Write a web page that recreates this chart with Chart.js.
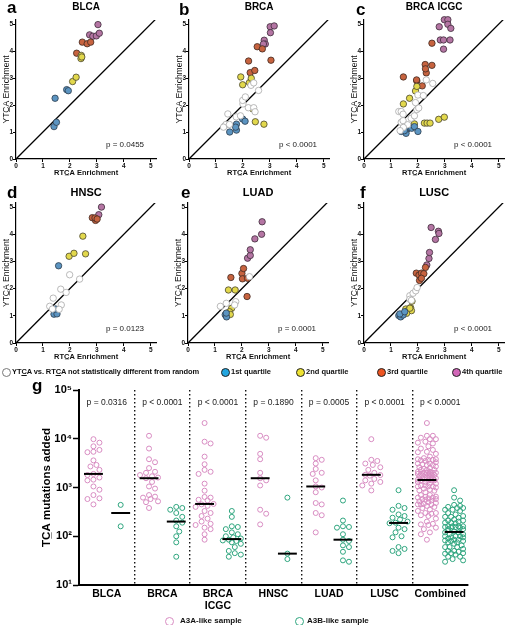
<!DOCTYPE html>
<html><head><meta charset="utf-8">
<script src="https://cdn.jsdelivr.net/npm/chart.js@4"></script>
<style>
html,body{margin:0;padding:0;background:#fff;}
body{width:506px;height:625px;position:relative;overflow:hidden;font-family:"Liberation Sans",Arial,Helvetica,sans-serif;}
.letter{position:absolute;font-weight:bold;font-size:17px;line-height:17px;color:#000;z-index:5;}
.leg{position:absolute;font-weight:bold;font-size:7.5px;line-height:10px;height:10px;color:#111;white-space:nowrap;z-index:5;}
.dot{position:absolute;width:7px;height:7px;border-radius:50%;border:1px solid #222;z-index:5;}
</style></head><body>
<script>
// ---------------- DATA: panels a-f (RTCA enrichment, YTCA enrichment) ----------------
const scatterTitles = ['BLCA', 'BRCA', 'BRCA ICGC', 'HNSC', 'LUAD', 'LUSC'];
const scatterPValues = ['p = 0.0455', 'p < 0.0001', 'p < 0.0001', 'p = 0.0123', 'p = 0.0001', 'p < 0.0001'];
const enrichTicks = [0, 1, 2, 3, 4, 5];

const blcaOpen = [];
const blcaQ1 = [[1.41,1.20],[1.50,1.36],[1.45,2.25],[1.88,2.57],[1.94,2.53]];
const blcaQ2 = [[2.10,2.87],[2.23,3.03],[2.42,3.84],[2.41,3.72],[2.44,3.78]];
const blcaQ3 = [[2.25,3.92],[2.46,4.33],[2.64,4.27],[2.77,4.33]];
const blcaQ4 = [[2.73,4.60],[2.85,4.55],[2.98,4.56],[3.04,4.98],[3.09,4.66]];

const brcaOpen = [[1.32,1.22],[1.37,1.28],[1.44,1.67],[1.50,1.28],[1.28,1.18],[1.75,1.56],[1.91,1.60],[2.00,2.04],[1.99,2.17],[2.09,2.30],[2.20,1.90],[2.40,1.90],[2.45,1.75],[2.30,2.73],[2.40,2.82],[2.58,2.54]];
const brcaQ1 = [[1.51,1.00],[1.76,1.07],[1.76,1.29],[1.73,1.18],[1.99,1.48],[2.08,1.40]];
const brcaQ2 = [[1.92,3.04],[1.99,2.75],[2.24,2.83],[2.31,2.99],[2.36,1.86],[2.46,1.38],[2.78,1.29]];
const brcaQ3 = [[2.21,3.63],[2.27,3.20],[2.44,3.28],[2.53,4.16],[2.72,4.08],[3.04,3.66]];
const brcaQ4 = [[2.79,4.40],[2.83,4.26],[2.76,4.26],[3.01,4.90],[3.16,4.93],[3.02,4.68]];

const icgcOpen = [[1.29,1.76],[1.38,1.76],[1.45,1.66],[1.38,1.36],[1.45,1.42],[1.62,1.27],[1.75,1.51],[1.87,1.60],[1.96,1.83],[2.03,1.89],[1.91,2.09],[2.00,2.37],[2.20,2.35],[2.31,2.93],[2.55,2.80],[1.46,1.17],[1.34,1.05]];
const icgcQ1 = [[1.38,1.02],[1.47,1.12],[1.54,1.03],[1.60,1.10],[1.69,1.17],[1.77,1.14],[1.87,1.20],[2.00,1.02],[1.56,0.95],[1.50,1.05]];
const icgcQ2 = [[1.46,2.04],[1.69,2.25],[1.91,2.52],[1.96,2.69],[1.87,1.30],[2.24,1.33],[2.34,1.33],[2.45,1.33],[2.77,1.47],[2.98,1.55]];
const icgcQ3 = [[1.46,3.04],[1.96,2.89],[1.95,2.93],[2.16,2.71],[2.27,3.50],[2.31,3.19],[2.28,3.34],[2.52,3.47],[2.52,4.29]];
const icgcQ4 = [[2.79,4.90],[2.98,5.16],[3.11,5.16],[3.11,4.99],[3.22,4.84],[2.83,4.41],[2.95,4.41],[3.19,4.41],[2.95,4.07]];

const hnscOpen = [[1.25,1.35],[1.38,1.65],[1.66,1.98],[1.86,1.86],[1.99,2.51],[2.36,2.35],[1.68,1.40],[1.60,1.24],[1.35,1.25]];
const hnscQ1 = [[1.41,1.06],[1.52,1.07],[1.47,1.25],[1.58,2.84]];
const hnscQ2 = [[1.97,3.19],[2.15,3.30],[2.58,3.28],[2.48,3.93]];
const hnscQ3 = [[2.83,4.61],[2.95,4.51],[2.93,4.60],[3.01,4.56]];
const hnscQ4 = [[3.07,4.72],[3.17,5.00]];

const luadOpen = [[1.20,1.35],[1.42,1.46],[1.77,1.52],[1.73,1.40],[2.28,2.44]];
const luadQ1 = [[1.38,1.04],[1.43,0.96],[1.42,1.10]];
const luadQ2 = [[1.50,1.95],[1.75,1.95],[1.62,1.28],[1.54,1.15],[1.57,1.05]];
const luadQ3 = [[1.59,2.41],[2.00,2.56],[2.06,2.74],[2.02,2.36],[2.21,2.38],[2.19,1.71]];
const luadQ4 = [[2.21,3.12],[2.31,3.22],[2.31,3.43],[2.48,3.83],[2.73,4.00],[2.75,4.46]];

const luscOpen = [[1.70,1.74],[1.82,1.83],[1.92,1.92],[1.97,2.04],[1.70,1.61],[1.76,1.57]];
const luscQ1 = [[1.29,1.01],[1.36,0.96],[1.45,1.03],[1.33,1.07],[1.51,1.15]];
const luscQ2 = [[1.55,1.25],[1.63,1.19],[1.73,1.30],[1.76,1.19],[1.58,1.09],[1.70,1.28],[1.78,1.54]];
const luscQ3 = [[1.94,2.57],[2.04,2.50],[2.13,2.57],[2.22,2.55],[2.06,2.30],[2.13,2.38],[2.28,2.78]];
const luscQ4 = [[2.33,2.87],[2.41,3.11],[2.43,3.33],[2.49,4.25],[2.76,4.11],[2.78,4.03],[2.65,3.81]];

// ---------------- DATA: panel g (TCA mutations added) ----------------
const gCategories = ['BLCA', 'BRCA', ['BRCA', 'ICGC'], 'HNSC', 'LUAD', 'LUSC', 'Combined'];
const gPValues = ['p = 0.0316', 'p < 0.0001', 'p < 0.0001', 'p = 0.1890', 'p = 0.0005', 'p < 0.0001', 'p < 0.0001'];
const gYTicks = [10, 100, 1000, 10000, 100000];
const gYTickLabels = ['10\u00B9', '10\u00B2', '10\u00B3', '10\u2074', '10\u2075'];

const blcaA3A = [9800, 8300, 7000, 5900, 5400, 5300, 3600, 2900, 2700, 2300, 1900, 1800, 1600, 1450, 1400, 1050, 900, 700, 600, 580, 450];
const blcaA3B = [440, 160];
const brcaA3A = [11500, 6300, 3800, 3300, 2500, 2100, 2000, 1800, 1700, 1600, 1550, 1300, 1050, 950, 700, 650, 620, 580, 520, 500, 380];
const brcaA3B = [400, 380, 350, 300, 250, 210, 190, 160, 125, 100, 75, 38];
const icgcA3A = [21000, 8700, 8000, 4300, 3000, 2300, 2100, 1900, 1200, 860, 640, 620, 560, 540, 460, 450, 420, 400, 330, 300, 260, 230, 200, 180, 170, 150, 140, 110, 85];
const icgcA3B = [330, 250, 160, 155, 140, 120, 110, 100, 95, 90, 85, 82, 80, 75, 70, 60, 50, 45, 42, 38];
const hnscA3A = [11500, 10500, 4900, 3800, 2000, 1550, 1400, 1100, 350, 290, 175];
const hnscA3B = [620, 44, 34];
const luadA3A = [4000, 3700, 3100, 2400, 2000, 1900, 1400, 1050, 1000, 800, 480, 450, 300, 270, 120];
const luadA3B = [540, 210, 160, 155, 150, 110, 85, 80, 65, 60, 48, 32, 30];
const luscA3A = [9800, 3700, 3500, 3100, 2900, 2600, 2300, 2000, 1820, 1800, 1750, 1500, 1400, 1300, 1200, 1100, 870];
const luscA3B = [880, 420, 380, 350, 280, 260, 240, 220, 200, 190, 185, 150, 140, 120, 100, 95, 60, 55, 50, 45];
const combinedA3A = [].concat(blcaA3A, brcaA3A, icgcA3A, hnscA3A, luadA3A, luscA3A);
const combinedA3B = [].concat(blcaA3B, brcaA3B, icgcA3B, hnscA3B, luadA3B, luscA3B);

// ---------------- rendering ----------------
const FF = '"Liberation Sans", Arial, Helvetica, sans-serif';
Chart.defaults.font.family = FF;
Chart.defaults.color = '#111';

function makeCanvas(left, top, w, h) {
  const c = document.createElement('canvas');
  c.width = w; c.height = h;
  c.style.cssText = 'position:absolute;left:' + left + 'px;top:' + top + 'px;width:' + w + 'px;height:' + h + 'px;';
  document.body.appendChild(c);
  return c;
}
function addDiv(cls, left, top, html, extra) {
  const d = document.createElement('div');
  d.className = cls;
  d.style.left = left + 'px'; d.style.top = top + 'px';
  if (extra) d.style.cssText += extra;
  d.innerHTML = html;
  document.body.appendChild(d);
  return d;
}
function textPlugin(items, font, align) {
  return {
    id: 'txt',
    afterDatasetsDraw(chart) {
      const {ctx, scales} = chart;
      ctx.save();
      ctx.font = font;
      ctx.fillStyle = '#1a1a1a';
      ctx.textAlign = align;
      ctx.textBaseline = 'middle';
      items.forEach(it => ctx.fillText(it.text, scales.x.getPixelForValue(it.x), scales.y.getPixelForValue(it.y)));
      ctx.restore();
    }
  };
}

const GROUP_STYLES = {
  open: {bg: '#ffffff', border: '#a8a8a8'},
  q1: {bg: '#5b94c1', border: '#2e3d4c'},
  q2: {bg: '#e2d84c', border: '#4a4630'},
  q3: {bg: '#c7633f', border: '#3f2a22'},
  q4: {bg: '#b475a3', border: '#3e2c3a'}
};

function scatterPanel(idx, originX, row, groups) {
  const top = row === 0 ? 0 : 180;
  const h = row === 0 ? 179 : 183;
  const w = 16 + 141 + 4;
  const c = makeCanvas(originX - 16, top, w, h);
  const datasets = [{type: 'line', label: 'y = x', data: [{x: 0, y: 0}, {x: 5.3, y: 5.3}],
    borderColor: '#000', borderWidth: 1.3, pointRadius: 0, order: 10}];
  ['open', 'q1', 'q2', 'q3', 'q4'].forEach(k => {
    const pts = groups[k];
    if (!pts.length) return;
    datasets.push({type: 'scatter', label: k, data: pts.map(p => ({x: p[0], y: p[1]})),
      backgroundColor: GROUP_STYLES[k].bg, borderColor: GROUP_STYLES[k].border,
      borderWidth: 0.8, pointRadius: 3.2, clip: false, order: 1});
  });
  const axisCommon = (max) => ({
    type: 'linear', min: 0, max: max,
    afterBuildTicks: s => { s.ticks = enrichTicks.map(v => ({value: v})); },
    ticks: {autoSkip: false, maxRotation: 0, padding: 0, font: {size: 6.5, weight: 'bold'}, color: '#111'},
    grid: {display: true, drawOnChartArea: false, drawTicks: true, tickLength: 3, tickColor: '#000', tickWidth: 1},
    border: {display: true, color: '#000', width: 1.2}
  });
  const xs = axisCommon(5.2);
  xs.title = {display: true, text: 'RTC\u0332A Enrichment', color: '#111', font: {size: 7.5, weight: 'bold', lineHeight: 1}, padding: {top: 0, bottom: 2}};
  xs.afterFit = s => { s.height = 20; };
  const ys = axisCommon(5.15);
  ys.title = {display: true, text: 'YTC\u0332A Enrichment', color: '#111', font: {size: 8.5, weight: 'normal', lineHeight: 1}, padding: {top: 2.2, bottom: 0}};
  ys.afterFit = s => { s.width = 16; };
  new Chart(c, {
    type: 'scatter',
    data: {datasets},
    options: {
      responsive: false, animation: false, events: [],
      layout: {padding: {left: 0, right: 4, top: 0, bottom: 0}},
      plugins: {
        legend: {display: false}, tooltip: {enabled: false},
        title: {display: true, text: scatterTitles[idx], fullSize: false, color: '#000',
          font: {size: row === 0 ? 10 : 11, weight: 'bold', lineHeight: 1},
          padding: row === 0 ? {top: 2, bottom: 8} : {top: 7, bottom: 5}}
      },
      scales: {x: xs, y: ys}
    },
    plugins: [textPlugin([{text: scatterPValues[idx], x: 4.75, y: 0.53}], '8px ' + FF, 'right')]
  });
}

scatterPanel(0, 16, 0, {open: blcaOpen, q1: blcaQ1, q2: blcaQ2, q3: blcaQ3, q4: blcaQ4});
scatterPanel(1, 189, 0, {open: brcaOpen, q1: brcaQ1, q2: brcaQ2, q3: brcaQ3, q4: brcaQ4});
scatterPanel(2, 364, 0, {open: icgcOpen, q1: icgcQ1, q2: icgcQ2, q3: icgcQ3, q4: icgcQ4});
scatterPanel(3, 16, 1, {open: hnscOpen, q1: hnscQ1, q2: hnscQ2, q3: hnscQ3, q4: hnscQ4});
scatterPanel(4, 188, 1, {open: luadOpen, q1: luadQ1, q2: luadQ2, q3: luadQ3, q4: luadQ4});
scatterPanel(5, 364, 1, {open: luscOpen, q1: luscQ1, q2: luscQ2, q3: luscQ3, q4: luscQ4});

// panel letters
[['a', 7, -1], ['b', 179, 0.5], ['c', 356, 0.5], ['d', 7, 183.5], ['e', 181, 183.5], ['f', 360, 183.5], ['g', 32, 376.5]]
  .forEach(l => addDiv('letter', l[1], l[2], l[0]));

// quartile legend
addDiv('dot', 1.5, 367.5, '', 'background:#fff;border-color:#777;');
addDiv('leg', 12, 367, 'YT<u>C</u>A vs. RT<u>C</u>A not statistically different from random', 'letter-spacing:-0.1px;');
[['#22a6e0', 221, '1st quartile'], ['#eee232', 296, '2nd quartile'], ['#ee5522', 377, '3rd quartile'], ['#d266b8', 452, '4th quartile']]
  .forEach(q => { addDiv('dot', q[1], 367.5, '', 'background:' + q[0] + ';'); addDiv('leg', q[1] + 10, 367, q[2]); });

// ---------------- panel g ----------------
const gA3A = [blcaA3A, brcaA3A, icgcA3A, hnscA3A, luadA3A, luscA3A, combinedA3A];
const gA3B = [blcaA3B, brcaA3B, icgcA3B, hnscA3B, luadA3B, luscA3B, combinedA3B];
function median(arr) {
  const s = arr.slice().sort((a, b) => a - b);
  const m = Math.floor(s.length / 2);
  return s.length % 2 ? s[m] : (s[m - 1] + s[m]) / 2;
}
const A3A_POS = 0.26, A3B_POS = 0.75, MED_HALF = 0.17;
const gDatasets = [];
gCategories.forEach((cat, i) => {
  [[gA3A[i], A3A_POS, '#d88cc2', 'A3A-like sample'], [gA3B[i], A3B_POS, '#2ea57e', 'A3B-like sample']].forEach(g => {
    const base = i + g[1];
    gDatasets.push({type: 'scatter', label: g[3], _swarm: true, data: g[0].map(v => ({x: base, y: v, base: base})),
      backgroundColor: 'rgba(255,255,255,0)', borderColor: g[2], borderWidth: 1, pointRadius: 2.5, order: 2});
    const med = median(g[0]);
    gDatasets.push({type: 'line', label: 'median', data: [{x: base - MED_HALF, y: med}, {x: base + MED_HALF, y: med}],
      borderColor: '#000', borderWidth: 2, pointRadius: 0, order: 1});
  });
});

const gc = makeCanvas(0, 375, 506, 250);
const gTicksX = [];
gCategories.forEach((c, i) => { gTicksX.push(i, i + 0.5); });
gTicksX.push(gCategories.length);
const gChart = new Chart(gc, {
  type: 'scatter',
  data: {datasets: gDatasets},
  options: {
    responsive: false, animation: false, events: [],
    layout: {padding: {left: 0, right: 38, top: 15, bottom: 0}},
    plugins: {legend: {display: false}, tooltip: {enabled: false}},
    scales: {
      x: {type: 'linear', min: 0, max: gCategories.length,
        afterBuildTicks: s => { s.ticks = gTicksX.map(v => ({value: v})); },
        ticks: {autoSkip: false, maxRotation: 0, minRotation: 0, padding: 3, color: '#000',
          font: {size: 10.5, weight: 'bold', lineHeight: 1.15},
          callback: v => { const k = v - 0.5; return Number.isInteger(k) ? gCategories[k] : ''; }},
        grid: {display: true, drawOnChartArea: true, drawTicks: false, lineWidth: 1.4,
          color: c => { const v = c.tick ? c.tick.value : -1; return (Number.isInteger(v) && v > 0 && v < gCategories.length) ? '#111' : 'rgba(0,0,0,0)'; }},
        border: {display: true, color: '#000', width: 2, dash: [1.4, 2.6]},
        afterFit: s => { s.height = 40; }
      },
      y: {type: 'logarithmic', min: 10, max: 100000,
        afterBuildTicks: s => { s.ticks = gYTicks.map(v => ({value: v})); },
        ticks: {autoSkip: false, padding: 1, color: '#000', font: {size: 11, weight: 'bold'},
          callback: v => { const k = gYTicks.indexOf(Number(v)); return k >= 0 ? gYTickLabels[k] : ''; }},
        grid: {display: true, drawOnChartArea: false, drawTicks: true, tickLength: 6, tickWidth: 1.5, tickColor: '#000'},
        border: {display: true, color: '#000', width: 2},
        title: {display: true, text: 'TC\u0332A mutations added', color: '#000', font: {size: 11.5, weight: 'bold'}, padding: {top: 40, bottom: 0}},
        afterFit: s => { s.width = 79; }
      }
    }
  },
  plugins: [textPlugin(gPValues.map((t, i) => ({text: t, x: i + 0.5, y: 54000})), '8.5px ' + FF, 'center')]
});

// deterministic beeswarm layout of the points around each column position
(function swarm(chart) {
  const xs = chart.scales.x, ys = chart.scales.y;
  const ppu = xs.getPixelForValue(1) - xs.getPixelForValue(0);
  const OFFS = [0, 3, -3, 6, -6, 9, -9, 1.5, -1.5, 4.5, -4.5, 7.5, -7.5];
  const D = 5.3;
  chart.data.datasets.forEach(ds => {
    if (!ds._swarm) return;
    const pts = ds.data;
    const order = pts.map((p, i) => i).sort((a, b) => pts[b].y - pts[a].y);
    const placed = [];
    const out = pts.map(p => ({x: p.x, y: p.y}));
    order.forEach(i => {
      const py = ys.getPixelForValue(pts[i].y);
      let best = 0, bestScore = -1;
      for (const off of OFFS) {
        let minD = Infinity;
        for (const q of placed) { const d = Math.hypot(q.dx - off, q.py - py); if (d < minD) minD = d; }
        if (minD >= D) { best = off; break; }
        if (minD > bestScore) { bestScore = minD; best = off; }
      }
      placed.push({dx: best, py: py});
      out[i].x = pts[i].base + best / ppu;
    });
    ds.data = out;
  });
  chart.update('none');
})(gChart);

// g legend
addDiv('dot', 165, 616.5, '', 'background:transparent;border:1.2px solid #d88cc2;');
addDiv('leg', 180, 616, 'A3A-like sample', 'font-size:8px;');
addDiv('dot', 295, 616.5, '', 'background:transparent;border:1.2px solid #2ea57e;');
addDiv('leg', 307, 616, 'A3B-like sample', 'font-size:8px;');
</script>
</body></html>
